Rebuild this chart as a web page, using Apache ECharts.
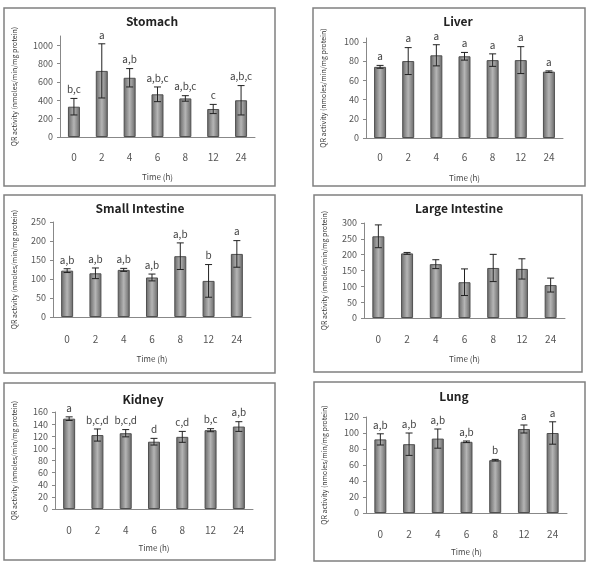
<!DOCTYPE html>
<html>
<head>
<meta charset="utf-8">
<script src="https://cdn.jsdelivr.net/npm/echarts@6/dist/echarts.min.js"></script>
<style>
  html, body { margin: 0; padding: 0; background: #fff; }
  #wrap { position: relative; width: 592px; height: 567px; }
  .panel { position: absolute; }
</style>
</head>
<body>
<div id="wrap">
  <div class="panel" id="p1" style="left:3px;top:7px;width:273px;height:180px"></div>
  <div class="panel" id="p2" style="left:312px;top:7px;width:274px;height:180px"></div>
  <div class="panel" id="p3" style="left:3px;top:194px;width:273px;height:180px"></div>
  <div class="panel" id="p4" style="left:313px;top:194px;width:270px;height:179px"></div>
  <div class="panel" id="p5" style="left:3px;top:382px;width:273px;height:179px"></div>
  <div class="panel" id="p6" style="left:313px;top:381px;width:273px;height:181px"></div>
</div>
<script>
const times = ['0', '2', '4', '6', '8', '12', '24']

const stomachMean = [330, 720, 645, 465, 420, 305, 400]
const stomachErr = [90, 295, 100, 80, 30, 50, 160]
const stomachSig = ['b,c', 'a', 'a,b', 'a,b,c', 'a,b,c', 'c', 'a,b,c']
const stomachTicks = [0, 200, 400, 600, 800, 1000]

const liverMean = [74, 80, 86, 85, 81, 81, 69]
const liverErr = [1.5, 14, 11, 4, 6.5, 14, 0.8]
const liverSig = ['a', 'a', 'a', 'a', 'a', 'a', 'a']
const liverTicks = [0, 20, 40, 60, 80, 100]

const smallMean = [122, 115, 124, 104, 160, 95, 166]
const smallErr = [5, 14, 4, 9, 35, 43, 35]
const smallSig = ['a,b', 'a,b', 'a,b', 'a,b', 'a,b', 'b', 'a']
const smallTicks = [0, 50, 100, 150, 200, 250]

const largeMean = [258, 204, 170, 113, 158, 155, 104]
const largeErr = [36, 3, 14, 42, 43, 32, 22]
const largeSig = ['', '', '', '', '', '', '']
const largeTicks = [0, 50, 100, 150, 200, 250, 300]

const kidneyMean = [149, 122, 125, 111, 119, 130, 136]
const kidneyErr = [3, 10, 6, 5.5, 9, 2.5, 8]
const kidneySig = ['a', 'b,c,d', 'b,c,d', 'd', 'c,d', 'b,c', 'a,b']
const kidneyTicks = [0, 20, 40, 60, 80, 100, 120, 140, 160]

const lungMean = [92, 86, 93, 89, 66, 105, 100]
const lungErr = [7, 14, 12, 1, 1, 5, 14]
const lungSig = ['a,b', 'a,b', 'a,b', 'a,b', 'b', 'a', 'a']
const lungTicks = [0, 20, 40, 60, 80, 100, 120]

const FONT = '"Noto Sans CJK KR", "Noto Sans", sans-serif'
const yName = 'QR activity (nmoles/min/mg protein)'

const panels = [
  { id: 'p1', title: 'Stomach', mean: stomachMean, err: stomachErr, sig: stomachSig, ticks: stomachTicks, max: 1100,
    grid: { left: 56, top: 29, width: 196, height: 101 }, titleX: 149, titleY: 14, yGap: 42, xGap: 36, lblMargin: 15 },
  { id: 'p2', title: 'Liver', mean: liverMean, err: liverErr, sig: liverSig, ticks: liverTicks, max: 104,
    grid: { left: 52, top: 31, width: 199, height: 100 }, titleX: 146, titleY: 14, yGap: 39, xGap: 36, lblMargin: 14 },
  { id: 'p3', title: 'Small Intestine', mean: smallMean, err: smallErr, sig: smallSig, ticks: smallTicks, max: 250,
    grid: { left: 47, top: 28, width: 201, height: 95 }, titleX: 137, titleY: 14, yGap: 35, xGap: 38, lblMargin: 17 },
  { id: 'p4', title: 'Large Intestine', mean: largeMean, err: largeErr, sig: largeSig, ticks: largeTicks, max: 300,
    grid: { left: 51, top: 29, width: 201, height: 95 }, titleX: 146, titleY: 14, yGap: 36, xGap: 37, lblMargin: 16 },
  { id: 'p5', title: 'Kidney', mean: kidneyMean, err: kidneyErr, sig: kidneySig, ticks: kidneyTicks, max: 160,
    grid: { left: 49, top: 30, width: 201, height: 97 }, titleX: 140, titleY: 17, yGap: 37, xGap: 35, lblMargin: 16 },
  { id: 'p6', title: 'Lung', mean: lungMean, err: lungErr, sig: lungSig, ticks: lungTicks, max: 120,
    grid: { left: 51, top: 36, width: 203, height: 96 }, titleX: 141, titleY: 15, yGap: 38, xGap: 35, lblMargin: 16 }
]

function renderPanel(p) {
  const el = document.getElementById(p.id)
  const chart = echarts.init(el)
  const w = el.clientWidth
  const h = el.clientHeight
  const barColor = new echarts.graphic.LinearGradient(0, 0, 1, 0, [
    { offset: 0, color: '#666' },
    { offset: 0.5, color: '#b5b5b5' },
    { offset: 1, color: '#666' }
  ])
  chart.setOption({
    animation: false,
    textStyle: { fontFamily: FONT },
    graphic: [
      { type: 'rect', shape: { x: 1, y: 1, width: w - 2, height: h - 2 },
        style: { fill: 'none', stroke: '#808080', lineWidth: 1.5 } },
      { type: 'text', x: p.titleX, y: p.titleY,
        style: { text: p.title, fontSize: 12, fontWeight: 'bold', fontFamily: FONT, fill: '#222',
          textAlign: 'center', textVerticalAlign: 'middle' } }
    ],
    grid: p.grid,
    xAxis: {
      type: 'category',
      data: times,
      name: 'Time (h)',
      nameLocation: 'middle',
      nameGap: p.xGap,
      nameTextStyle: { fontSize: 8, color: '#444' },
      axisLine: { lineStyle: { color: '#888', width: 1 } },
      axisTick: { length: 3, lineStyle: { color: '#888' } },
      axisLabel: { fontSize: 10, color: '#555', margin: p.lblMargin }
    },
    yAxis: {
      type: 'value',
      min: 0,
      max: p.max,
      interval: p.ticks[1],
      name: yName,
      nameLocation: 'middle',
      nameGap: p.yGap,
      nameTextStyle: { fontSize: 7, color: '#333' },
      splitLine: { show: false },
      axisLine: { show: true, lineStyle: { color: '#888', width: 1 } },
      axisTick: { show: true, length: 3, customValues: p.ticks, lineStyle: { color: '#888' } },
      axisLabel: { fontSize: 9, color: '#555', margin: 7, customValues: p.ticks, formatter: v => String(v) }
    },
    series: [
      {
        type: 'bar',
        data: p.mean,
        barWidth: 12,
        itemStyle: { color: barColor, borderColor: '#505050', borderWidth: 1 }
      },
      {
        type: 'custom',
        z: 5,
        clip: false,
        data: p.mean.map((m, i) => [i, m, p.err[i]]),
        renderItem(params, api) {
          const i = api.value(0)
          const m = api.value(1)
          const e = api.value(2)
          const top = api.coord([i, m + e])
          const bot = api.coord([i, m - e])
          const x = top[0]
          const cap = 3.5
          const ls = { stroke: '#222', lineWidth: 1 }
          return {
            type: 'group',
            children: [
              { type: 'line', shape: { x1: x, y1: top[1], x2: x, y2: bot[1] }, style: ls },
              { type: 'line', shape: { x1: x - cap, y1: top[1], x2: x + cap, y2: top[1] }, style: ls },
              { type: 'line', shape: { x1: x - cap, y1: bot[1], x2: x + cap, y2: bot[1] }, style: ls },
              { type: 'text', x: x, y: top[1] - 4,
                style: { text: p.sig[params.dataIndex], fontSize: 10, fontFamily: FONT, fill: '#444',
                  textAlign: 'center', textVerticalAlign: 'bottom' } }
            ]
          }
        }
      }
    ]
  })
}

panels.forEach(renderPanel)
</script>
</body>
</html>
